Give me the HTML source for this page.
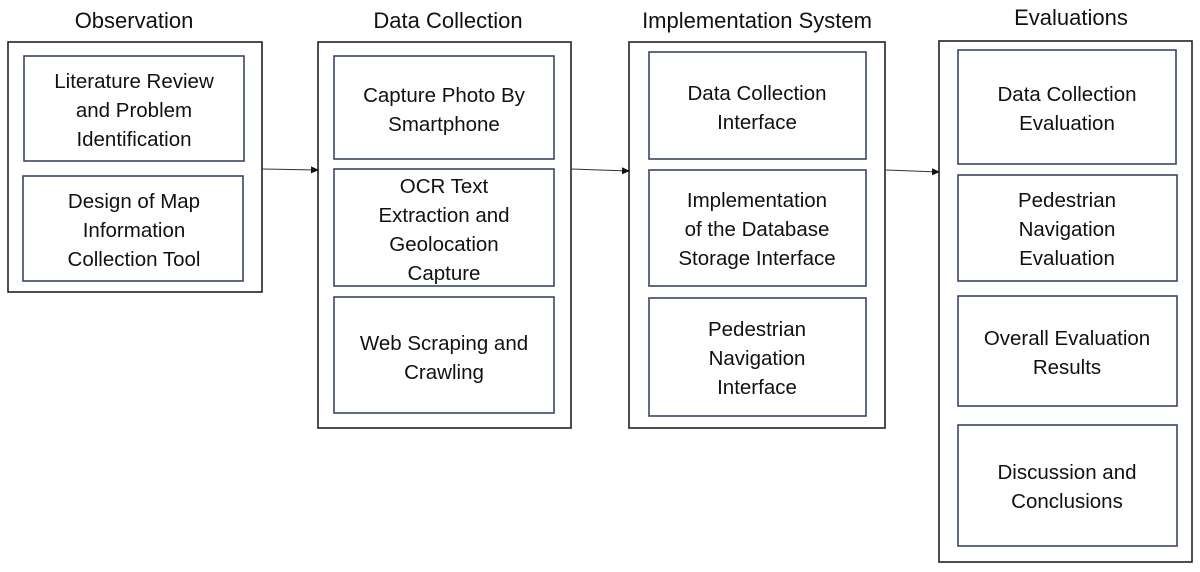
<!DOCTYPE html>
<html><head><meta charset="utf-8"><style>
html,body{margin:0;padding:0;background:#fff;}
svg{display:block;}
text{font-family:"Liberation Sans",sans-serif;fill:#111;text-anchor:middle;}
.t{font-size:22px;}
.b{font-size:20.5px;}
.o{fill:#fff;stroke:#222;stroke-width:1.6;}
.i{fill:#fff;stroke:#3a4668;stroke-width:1.6;}
</style></head><body>
<svg width="1200" height="572" viewBox="0 0 1200 572">
<defs><marker id="a" markerWidth="8" markerHeight="8" refX="7" refY="4" orient="auto" markerUnits="userSpaceOnUse"><path d="M0,0.5 L8,4 L0,7.5z" fill="#111"/></marker></defs>
<text class="t" x="134" y="28">Observation</text>
<text class="t" x="448" y="28">Data Collection</text>
<text class="t" x="757" y="28">Implementation System</text>
<text class="t" x="1071" y="25">Evaluations</text>

<rect class="o" x="8" y="42" width="254" height="250"/>
<rect class="o" x="318" y="42" width="253" height="386"/>
<rect class="o" x="629" y="42" width="256" height="386"/>
<rect class="o" x="939" y="41" width="253" height="521"/>

<line x1="262" y1="169" x2="318" y2="170" stroke="#333" stroke-width="1" marker-end="url(#a)"/>
<line x1="571" y1="169" x2="629" y2="171" stroke="#333" stroke-width="1" marker-end="url(#a)"/>
<line x1="885" y1="170" x2="939" y2="172" stroke="#333" stroke-width="1" marker-end="url(#a)"/>

<rect class="i" x="24" y="56" width="220" height="105"/>
<text class="b" x="134" y="88">Literature Review</text>
<text class="b" x="134" y="117">and Problem</text>
<text class="b" x="134" y="146">Identification</text>
<rect class="i" x="23" y="176" width="220" height="105"/>
<text class="b" x="134" y="208">Design of Map</text>
<text class="b" x="134" y="237">Information</text>
<text class="b" x="134" y="266">Collection Tool</text>

<rect class="i" x="334" y="56" width="220" height="103"/>
<text class="b" x="444" y="102">Capture Photo By</text>
<text class="b" x="444" y="131">Smartphone</text>
<rect class="i" x="334" y="169" width="220" height="117"/>
<text class="b" x="444" y="193">OCR Text</text>
<text class="b" x="444" y="222">Extraction and</text>
<text class="b" x="444" y="251">Geolocation</text>
<text class="b" x="444" y="280">Capture</text>
<rect class="i" x="334" y="297" width="220" height="116"/>
<text class="b" x="444" y="350">Web Scraping and</text>
<text class="b" x="444" y="379">Crawling</text>

<rect class="i" x="649" y="52" width="217" height="107"/>
<text class="b" x="757" y="100">Data Collection</text>
<text class="b" x="757" y="129">Interface</text>
<rect class="i" x="649" y="170" width="217" height="116"/>
<text class="b" x="757" y="207">Implementation</text>
<text class="b" x="757" y="236">of the Database</text>
<text class="b" x="757" y="265">Storage Interface</text>
<rect class="i" x="649" y="298" width="217" height="118"/>
<text class="b" x="757" y="336">Pedestrian</text>
<text class="b" x="757" y="365">Navigation</text>
<text class="b" x="757" y="394">Interface</text>

<rect class="i" x="958" y="50" width="218" height="114"/>
<text class="b" x="1067" y="101">Data Collection</text>
<text class="b" x="1067" y="130">Evaluation</text>
<rect class="i" x="958" y="175" width="219" height="106"/>
<text class="b" x="1067" y="207">Pedestrian</text>
<text class="b" x="1067" y="236">Navigation</text>
<text class="b" x="1067" y="265">Evaluation</text>
<rect class="i" x="958" y="296" width="219" height="110"/>
<text class="b" x="1067" y="345">Overall Evaluation</text>
<text class="b" x="1067" y="374">Results</text>
<rect class="i" x="958" y="425" width="219" height="121"/>
<text class="b" x="1067" y="479">Discussion and</text>
<text class="b" x="1067" y="508">Conclusions</text>
</svg>
</body></html>
